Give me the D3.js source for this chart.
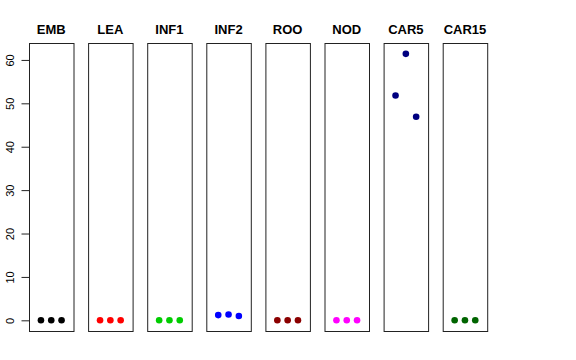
<!DOCTYPE html>
<html>
<head>
<meta charset="utf-8">
<script src="https://cdn.jsdelivr.net/npm/d3@7"></script>
<style>
  body { margin: 0; background: #fff; }
  text { font-family: "Liberation Sans", Arial, sans-serif; }
</style>
</head>
<body>
<div id="chart"></div>
<script>
// tissues, one panel each
var tissues = ["EMB", "LEA", "INF1", "INF2", "ROO", "NOD", "CAR5", "CAR15"];
var colors = ["#000000", "#ff0000", "#00cd00", "#0000ff", "#8b0000", "#ff00ff", "#000080", "#006400"];
// three replicates per tissue
var rep1 = [0, 0, 0, 1.2, 0, 0, 51.8, 0];
var rep2 = [0, 0, 0, 1.35, 0, 0, 61.4, 0];
var rep3 = [0, 0, 0, 1.0, 0, 0, 46.9, 0];
var yTicks = [0, 10, 20, 30, 40, 50, 60];

var width = 576, height = 360;
var plotTop = 43, plotBottom = 331;
var panelLeft = 29, panelW = 44.5, panelStep = 59.1;

var svg = d3.select("#chart").append("svg")
    .attr("width", width)
    .attr("height", height);

var y = d3.scaleLinear()
    .domain([-2.46, 63.9])
    .range([plotBottom, plotTop]);

var x = d3.scaleLinear()
    .domain([-0.16, 4.16])
    .range([0, panelW]);

tissues.forEach(function(t, i) {
    var g = svg.append("g")
        .attr("transform", "translate(" + (panelLeft + i * panelStep) + ",0)");

    g.append("rect")
        .attr("x", 0.5)
        .attr("y", plotTop + 0.5)
        .attr("width", panelW)
        .attr("height", plotBottom - plotTop)
        .attr("fill", "none")
        .attr("stroke", "#222")
        .attr("stroke-width", 1);

    g.append("text")
        .attr("x", panelW / 2)
        .attr("y", 34)
        .attr("text-anchor", "middle")
        .attr("font-size", "13px")
        .attr("font-weight", "bold")
        .text(t);

    var vals = [rep1[i], rep2[i], rep3[i]];
    g.selectAll("circle")
        .data(vals)
        .enter()
        .append("circle")
        .attr("cx", function(d, j) { return x(j + 1); })
        .attr("cy", function(d) { return y(d); })
        .attr("r", 3.3)
        .attr("fill", colors[i]);
});

var yAxis = d3.axisLeft(y)
    .tickValues(yTicks)
    .tickSize(8)
    .tickPadding(4);

var ag = svg.append("g")
    .attr("transform", "translate(" + (panelLeft + 0.5) + ",0)")
    .call(yAxis);

ag.select(".domain").remove();
ag.selectAll(".tick line").attr("stroke", "#222");
// rotated labels like R's default las=0
ag.selectAll(".tick text")
    .attr("font-size", "11px")
    .attr("fill", "#000")
    .attr("x", 0)
    .attr("y", 0)
    .attr("dy", 0)
    .attr("text-anchor", "middle")
    .attr("transform", "translate(-16,0) rotate(-90)");
</script>
</body>
</html>
